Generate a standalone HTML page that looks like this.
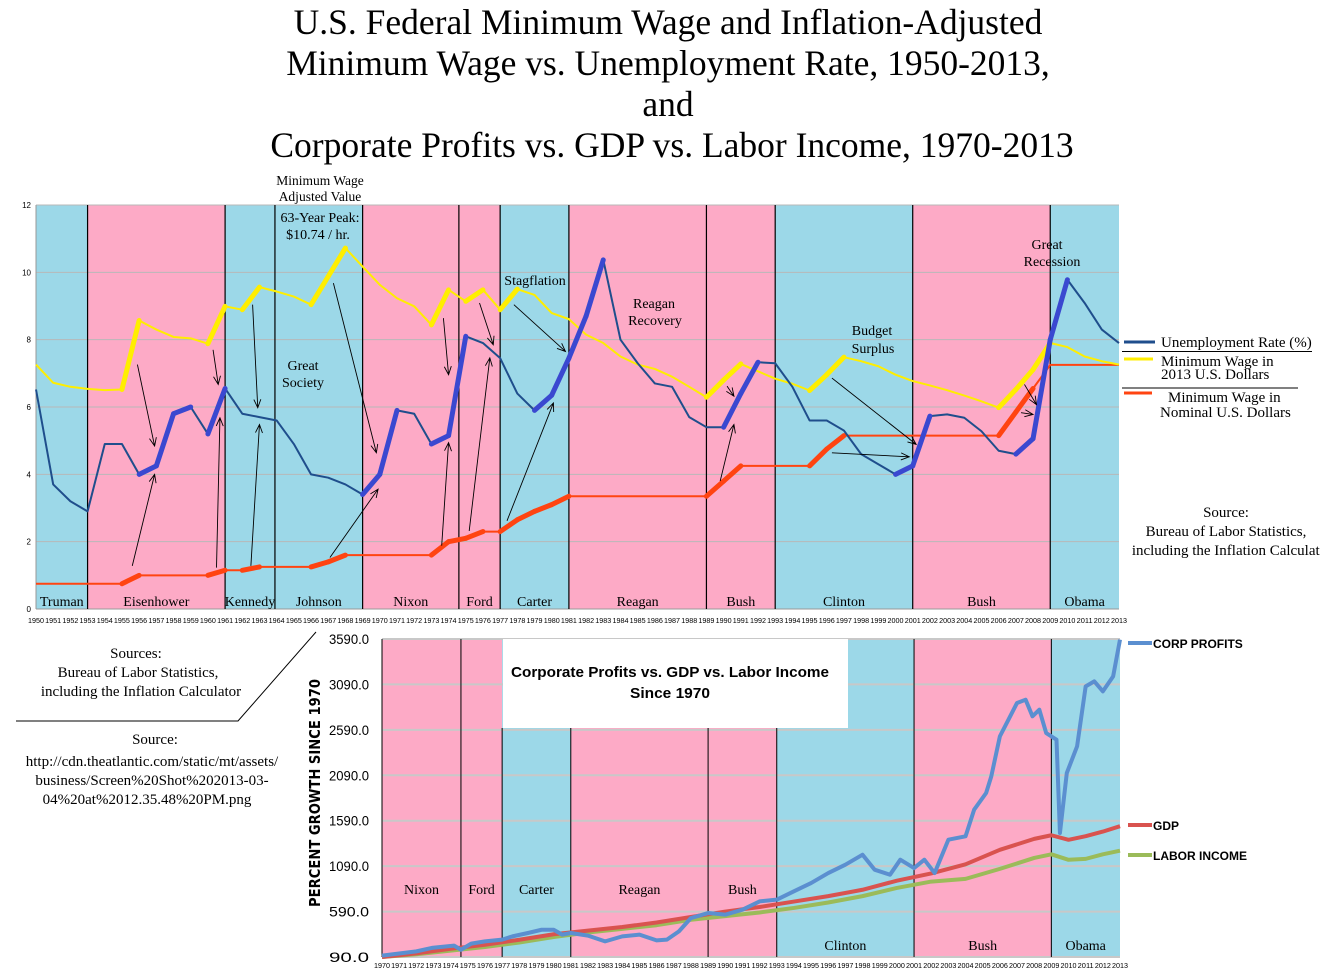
<!DOCTYPE html>
<html><head><meta charset="utf-8">
<style>
html,body{margin:0;padding:0;background:#fff;}
svg{display:block;}
.serif{font-family:"Liberation Serif",serif;}
.sans{font-family:"Liberation Sans",sans-serif;}
</style></head>
<body>
<svg id="page" width="1320" height="976" viewBox="0 0 1320 976" xmlns="http://www.w3.org/2000/svg">
<g id="title" class="serif" font-size="35.5" text-anchor="middle" fill="#000">
<text x="668" y="34">U.S. Federal Minimum Wage and Inflation-Adjusted</text>
<text x="668" y="75">Minimum Wage vs. Unemployment Rate, 1950-2013,</text>
<text x="668" y="116">and</text>
<text x="672" y="157">Corporate Profits vs. GDP vs. Labor Income, 1970-2013</text>
</g>
<g id="topchart"></g>
<g id="botchart"></g>
<g class="serif" font-size="15">
<line x1="1124" y1="342" x2="1155" y2="342" stroke="#1f4e8c" stroke-width="3"/>
<text x="1161" y="347">Unemployment Rate (%)</text>
<line x1="1122" y1="351.5" x2="1312" y2="351.5" stroke="#000" stroke-width="1"/>
<line x1="1124" y1="359" x2="1153" y2="359" stroke="#ffee00" stroke-width="3"/>
<text x="1161" y="366">Minimum Wage in</text>
<text x="1161" y="379">2013 U.S. Dollars</text>
<line x1="1122" y1="388" x2="1298" y2="388" stroke="#000" stroke-width="1"/>
<line x1="1124" y1="393" x2="1152" y2="393" stroke="#ff4411" stroke-width="3"/>
<text x="1168" y="402">Minimum Wage in</text>
<text x="1160" y="417">Nominal U.S. Dollars</text>
</g>
<g class="serif" font-size="15" text-anchor="middle">
<text x="1226" y="517">Source:</text>
<text x="1226" y="536">Bureau of Labor Statistics,</text>
<text x="1232" y="555">including the Inflation Calculator</text>
</g>
<g class="serif" font-size="15" text-anchor="middle">
<text x="136" y="658">Sources:</text>
<text x="138" y="677">Bureau of Labor Statistics,</text>
<text x="141" y="696">including the Inflation Calculator</text>
<polyline points="16,721 238,721 316,632" fill="none" stroke="#000" stroke-width="1"/>
<text x="155" y="744">Source:</text>
<text x="152" y="766">http://cdn.theatlantic.com/static/mt/assets/</text>
<text x="152" y="785">business/Screen%20Shot%202013-03-</text>
<text x="147" y="804">04%20at%2012.35.48%20PM.png</text>
</g>
</svg>
<script>
// ---------------- TOP CHART DATA ----------------
const years = [];
for (let y = 1950; y <= 2013; y++) years.push(y);
const unemployment = [6.52,3.7,3.2,2.9,4.9,4.9,4.0,4.25,5.8,6.0,5.2,6.55,5.8,5.7,5.6,4.9,4.0,3.9,3.7,3.4,4.0,5.9,5.8,4.9,5.15,8.1,7.9,7.45,6.4,5.9,6.35,7.45,8.7,10.37,8.0,7.3,6.7,6.6,5.7,5.4,5.4,6.4,7.33,7.3,6.6,5.6,5.6,5.3,4.6,4.3,4.0,4.25,5.73,5.78,5.68,5.28,4.7,4.6,5.06,8.0,9.78,9.09,8.3,7.9];
const realWage = [7.26,6.72,6.6,6.54,6.5,6.52,8.57,8.3,8.08,8.04,7.88,8.99,8.89,9.56,9.43,9.28,9.04,9.88,10.72,10.17,9.63,9.23,8.99,8.44,9.48,9.14,9.48,8.89,9.5,9.33,8.79,8.61,8.15,7.9,7.5,7.26,7.13,6.9,6.6,6.29,6.8,7.28,7.06,6.84,6.69,6.49,6.96,7.48,7.36,7.21,6.96,6.77,6.64,6.5,6.34,6.17,5.98,6.52,7.11,7.9,7.78,7.5,7.36,7.26];
const nominalWage = [0.75,0.75,0.75,0.75,0.75,0.75,1.0,1.0,1.0,1.0,1.0,1.15,1.15,1.25,1.25,1.25,1.25,1.4,1.6,1.6,1.6,1.6,1.6,1.6,2.0,2.1,2.3,2.3,2.65,2.9,3.1,3.35,3.35,3.35,3.35,3.35,3.35,3.35,3.35,3.35,3.8,4.25,4.25,4.25,4.25,4.25,4.75,5.15,5.15,5.15,5.15,5.15,5.15,5.15,5.15,5.15,5.15,5.85,6.55,7.25,7.25,7.25,7.25,7.25];
const unempThick = [1956,1957,1958,1960,1969,1970,1973,1974,1979,1980,1981,1982,1990,1991,2000,2001,2007,2008,2009];
const realThick = [1955,1960,1962,1966,1967,1973,1975,1977,1989,1990,1995,1996,2006,2007,2008];
const nomThick = [1955,1960,1962,1966,1967,1973,1974,1975,1977,1978,1979,1980,1989,1990,1995,1996,2006,2007];
const yTicks = [0,2,4,6,8,10,12];
const terms = [[1950,1953,'b','Truman'],[1953,1961,'p','Eisenhower'],[1961,1963.9,'b','Kennedy'],[1963.9,1969,'b','Johnson'],[1969,1974.6,'p','Nixon'],[1974.6,1977,'p','Ford'],[1977,1981,'b','Carter'],[1981,1989,'p','Reagan'],[1989,1993,'p','Bush'],[1993,2001,'b','Clinton'],[2001,2009,'p','Bush'],[2009,2013,'b','Obama']];
const arrows = [[1955.9,7.26,1956.9,4.84],[1955.6,1.28,1956.9,4.0],[1960.3,7.7,1960.6,6.67],[1960.5,1.23,1960.7,5.68],[1962.6,9.04,1962.9,5.98],[1962.5,1.28,1963,5.48],[1967.3,9.68,1969.8,4.64],[1967.1,1.53,1969.9,3.56],[1973.7,8.64,1974,6.96],[1973.6,1.88,1974,4.94],[1975.8,9.09,1976.6,7.85],[1975.2,2.32,1976.4,7.46],[1977.8,9.04,1980.8,7.65],[1977.4,2.62,1980.1,6.12],[1990.2,6.62,1990.6,6.32],[1989.8,3.8,1990.6,5.48],[1996.3,6.86,2001.2,4.89],[1996.3,4.64,2000.8,4.52],[2007.5,6.67,2008.2,6.07],[2007.3,5.83,2008,5.78]];

// ---------------- BOTTOM CHART DATA ----------------
const cpYears = [1970,1972,1972.9,1974.2,1974.6,1975.2,1976,1977,1977.6,1978.5,1979.3,1980,1980.5,1981,1982,1983,1984,1985,1986,1986.6,1987.3,1988,1989,1990,1991,1992,1993,1994,1995,1996,1997,1998,1998.7,1999.6,2000.2,2001,2001.6,2002.2,2003,2004,2004.5,2005.2,2005.5,2006,2006.5,2007,2007.5,2007.9,2008.3,2008.7,2009.3,2009.5,2009.9,2010.5,2011,2011.5,2012,2012.6,2013];
const corpProfits = [105,152,190,215,170,237,262,281,317,354,390,390,336,354,325,262,317,336,273,281,372,519,574,556,611,702,721,813,904,1014,1106,1216,1051,996,1161,1069,1161,1014,1381,1418,1711,1895,2078,2518,2702,2886,2922,2739,2812,2555,2482,1455,2115,2409,3069,3124,3014,3179,3583];
const gYears = [1970,1972,1974,1976,1978,1980,1982,1984,1986,1988,1990,1992,1994,1996,1998,2000,2002,2004,2006,2008,2009,2010,2011,2012,2013];
const gdp = [90,130,180,225,280,340,380,420,470,530,590,640,700,760,830,930,1010,1110,1270,1390,1430,1380,1420,1470,1530];
const laborIncome = [90,120,160,200,250,310,360,400,440,500,540,580,630,690,760,850,920,950,1060,1180,1220,1160,1170,1220,1260];
const bTicks = [90,590,1090,1590,2090,2590,3090,3590];
const bTerms = [[1970,1974.6,'p','Nixon'],[1974.6,1977,'p','Ford'],[1977,1981,'b','Carter'],[1981,1989,'p','Reagan'],[1989,1993,'p','Bush'],[1993,2001,'b','Clinton'],[2001,2009,'p','Bush'],[2009,2013,'b','Obama']];

const NS = 'http://www.w3.org/2000/svg';
const BLUE = '#9cd8e8', PINK = '#fdaac6';
function mk(tag, attrs, parent) {
  const e = document.createElementNS(NS, tag);
  for (const k in attrs) e.setAttribute(k, attrs[k]);
  parent.appendChild(e);
  return e;
}

// ---- top axes
const T = {x0:36, x1:1119, y0:609, y1:205};
const tx = y => T.x0 + (y - 1950) / 63 * (T.x1 - T.x0);
const ty = v => T.y0 - v / 12 * (T.y0 - T.y1);
const topG = document.getElementById('topchart');

terms.forEach(t => {
  const r = mk('rect', {x:tx(t[0]), y:T.y1, width:tx(t[1]) - tx(t[0]), height:T.y0 - T.y1, fill:t[2] === 'b' ? BLUE : PINK}, topG);
  
  
});
yTicks.forEach(v => {
  if (v > 0) {
    const g = mk('line', {x1:T.x0, x2:T.x1, y1:ty(v), y2:ty(v), stroke:'#b8b8b8', 'stroke-width':1}, topG);
    
    
  }
  const l = mk('text', {x:31, y:ty(v) + 3, 'font-size':8, 'text-anchor':'end', 'font-family':'Liberation Sans,sans-serif'}, topG);
  l.textContent = v;
  
  
});
const ax = mk('line', {x1:T.x0, x2:T.x1, y1:T.y0, y2:T.y0, stroke:'#999', 'stroke-width':1}, topG);


const ay = mk('line', {x1:T.x0, x2:T.x0, y1:T.y1, y2:T.y0, stroke:'#999', 'stroke-width':1}, topG);


terms.forEach((t, i) => {
  if (i > 0) {
    const vl = mk('line', {x1:tx(t[0]), x2:tx(t[0]), y1:T.y1, y2:T.y0, stroke:'#000', 'stroke-width':1.2}, topG);
    
    
  }
  const n = mk('text', {x:(tx(t[0]) + tx(t[1])) / 2, y:606, 'font-size':14, 'text-anchor':'middle', 'font-family':'Liberation Serif,serif'}, topG);
  n.textContent = t[3];
  
  
});
years.forEach(y => {
  const l = mk('text', {x:tx(y), y:623, 'font-size':7, 'text-anchor':'middle', 'font-family':'Liberation Sans,sans-serif', textLength:16, lengthAdjust:'spacingAndGlyphs'}, topG);
  l.textContent = y;
  
  
});
function series(vals, color, w, name) {
  const p = mk('polyline', {points:vals.map((v, i) => tx(years[i]) + ',' + ty(v)).join(' '), fill:'none', stroke:color, 'stroke-width':w, 'stroke-linejoin':'round'}, topG);
  
  
}
function thick(vals, starts, color, w, name) {
  starts.forEach(s => {
    const i = years.indexOf(s);
    if (i < 0 || i + 1 >= years.length) return;
    const l = mk('line', {x1:tx(years[i]), y1:ty(vals[i]), x2:tx(years[i + 1]), y2:ty(vals[i + 1]), stroke:color, 'stroke-width':w, 'stroke-linecap':'round'}, topG);
    
    
  });
}
series(nominalWage, '#ff4411', 2, 'nominal-wage-line');
thick(nominalWage, nomThick, '#ff4411', 5, 'nominal-wage-increase');
series(realWage, '#ffee00', 2, 'real-wage-line');
thick(realWage, realThick, '#ffee00', 5, 'real-wage-increase');
series(unemployment, '#1f4e8c', 2, 'unemployment-line');
thick(unemployment, unempThick, '#3a48d0', 5, 'unemployment-rise');
arrows.forEach(a => {
  const x1 = tx(a[0]), y1 = ty(a[1]), x2 = tx(a[2]), y2 = ty(a[3]);
  const ang = Math.atan2(y2 - y1, x2 - x1), h = 9;
  const d = `M${x1},${y1}L${x2},${y2}M${x2 - h * Math.cos(ang - 0.4)},${y2 - h * Math.sin(ang - 0.4)}L${x2},${y2}L${x2 - h * Math.cos(ang + 0.4)},${y2 - h * Math.sin(ang + 0.4)}`;
  const p = mk('path', {d:d, fill:'none', stroke:'#000', 'stroke-width':0.9}, topG);
  
  
});
const notes = [[320,185,'Minimum Wage'],[320,201,'Adjusted Value'],[320,222,'63-Year Peak:'],[318,239,'$10.74 / hr.'],[303,370,'Great'],[303,387,'Society'],[535,285,'Stagflation'],[654,308,'Reagan'],[655,325,'Recovery'],[872,335,'Budget'],[873,353,'Surplus'],[1047,249,'Great'],[1052,266,'Recession']];
notes.forEach(n => {
  const t = mk('text', {x:n[0], y:n[1], 'font-size':n[1] < 205 ? 13.5 : 14, 'text-anchor':'middle', 'font-family':'Liberation Serif,serif'}, topG);
  t.textContent = n[2];
  
  
});

// ---- bottom axes
const B = {x0:382, x1:1120, y0:957, y1:639};
const bx = y => B.x0 + (y - 1970) / 43 * (B.x1 - B.x0);
const by = v => B.y0 - (v - 90) / 3500 * (B.y0 - B.y1);
const botG = document.getElementById('botchart');
bTerms.forEach(t => {
  const r = mk('rect', {x:bx(t[0]), y:B.y1, width:bx(t[1]) - bx(t[0]), height:B.y0 - B.y1, fill:t[2] === 'b' ? BLUE : PINK}, botG);
  
  
});
bTicks.forEach(v => {
  const g = mk('line', {x1:B.x0, x2:B.x1, y1:by(v), y2:by(v), stroke:'#c8c8c8', 'stroke-width':2}, botG);
  
  
  const l = mk('text', {x:369, y:by(v) + 5, 'font-size':14, 'text-anchor':'end', 'font-family':'Liberation Sans,sans-serif', textLength:40, lengthAdjust:'spacingAndGlyphs'}, botG);
  l.textContent = v.toFixed(1);
  
  
});
const box = mk('rect', {x:503, y:639, width:345, height:89, fill:'#fff'}, botG);


const it1 = mk('text', {x:670, y:677, 'font-size':15, 'font-weight':'bold', 'text-anchor':'middle', 'font-family':'Liberation Sans,sans-serif', textLength:318, lengthAdjust:'spacingAndGlyphs'}, botG);
it1.textContent = 'Corporate Profits vs. GDP vs. Labor Income';


const it2 = mk('text', {x:670, y:698, 'font-size':15, 'font-weight':'bold', 'text-anchor':'middle', 'font-family':'Liberation Sans,sans-serif', textLength:80, lengthAdjust:'spacingAndGlyphs'}, botG);
it2.textContent = 'Since 1970';


bTerms.forEach((t, i) => {
  if (i > 0) {
    const vl = mk('line', {x1:bx(t[0]), x2:bx(t[0]), y1:t[0] >= 1977 && t[0] <= 1993 ? 728 : B.y1, y2:B.y0, stroke:'#000', 'stroke-width':1}, botG);
    
    
  }
  const n = mk('text', {x:(bx(t[0]) + bx(t[1])) / 2, y:t[0] >= 1993 ? 950 : 894, 'font-size':14, 'text-anchor':'middle', 'font-family':'Liberation Serif,serif'}, botG);
  n.textContent = t[3];
  
  
});
const bl = mk('line', {x1:B.x0, x2:B.x0, y1:B.y1, y2:B.y0, stroke:'#000', 'stroke-width':1}, botG);


for (let y = 1970; y <= 2013; y++) {
  const l = mk('text', {x:bx(y), y:968, 'font-size':7, 'text-anchor':'middle', 'font-family':'Liberation Sans,sans-serif', textLength:16, lengthAdjust:'spacingAndGlyphs'}, botG);
  l.textContent = y;
  
  
}
function bseries(xs, vals, color, w, name) {
  const p = mk('polyline', {points:vals.map((v, i) => bx(xs[i]) + ',' + by(v)).join(' '), fill:'none', stroke:color, 'stroke-width':w, 'stroke-linejoin':'round'}, botG);
  
  
}
bseries(gYears, laborIncome, '#9bbb59', 4, 'labor-income-line');
bseries(gYears, gdp, '#d9534f', 4, 'gdp-line');
bseries(cpYears, corpProfits, '#5b8fd0', 4, 'corp-profits-line');
const yt = mk('text', {x:0, y:0, transform:'translate(320,793) rotate(-90)', 'font-size':15, 'font-weight':'bold', 'text-anchor':'middle', 'font-family':'DejaVu Sans,sans-serif', textLength:228, lengthAdjust:'spacingAndGlyphs'}, botG);
yt.textContent = 'PERCENT GROWTH SINCE 1970';


const bleg = [[643, '#5b8fd0', 'CORP PROFITS'], [825, '#d9534f', 'GDP'], [855, '#9bbb59', 'LABOR INCOME']];
bleg.forEach(b => {
  const s = mk('line', {x1:1128, x2:1152, y1:b[0], y2:b[0], stroke:b[1], 'stroke-width':4}, botG);
  
  
  const t = mk('text', {x:1153, y:b[0] + 5, 'font-size':12, 'font-weight':'bold', 'font-family':'Liberation Sans,sans-serif'}, botG);
  t.textContent = b[2];
  
  
});
</script>
</body></html>
